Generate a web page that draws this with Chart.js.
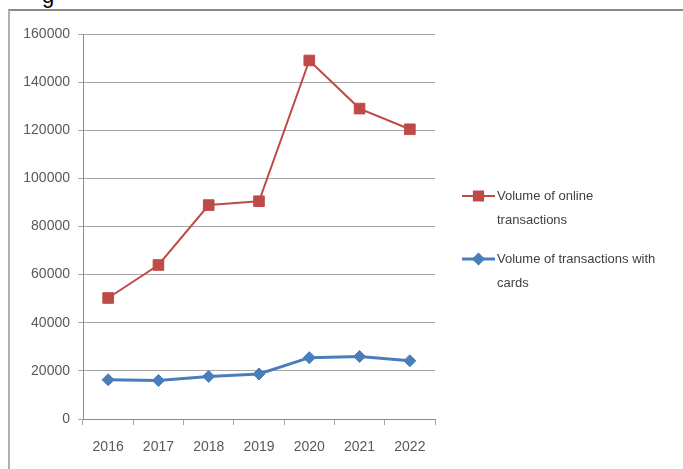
<!DOCTYPE html>
<html lang="en">
<head>
  <meta charset="UTF-8" />
  <title>Transaction volumes 2016-2022</title>
  <script src="https://cdn.jsdelivr.net/npm/chart.js"></script>
  <style>
    body {
      background-color: white;
      margin: 0;
      padding: 0;
      width: 683px;
      height: 469px;
      overflow: hidden;
      position: relative;
      font-family: "Liberation Sans", Arial, sans-serif;
    }

    .caption {
      position: absolute;
      left: 42px;
      top: -17px;
      font-size: 22px;
      color: black;
    }

    .frame {
      position: absolute;
      left: 8px;
      top: 9px;
      width: 690px;
      height: 470px;
      border-top: 2px solid #8a8a8a;
      border-left: 2px solid #b0b0b0;
      background-color: white;
    }

    canvas {
      display: block;
    }
  </style>
</head>
<body>

  <div class="caption">g</div>
  <div class="frame">
    <canvas id="txChart" width="673" height="456"></canvas>
  </div>

  <script>
    const years = ['2016', '2017', '2018', '2019', '2020', '2021', '2022'];
    const onlineVolume = [50300, 64000, 88900, 90500, 149000, 129000, 120400];
    const cardVolume = [16300, 16000, 17700, 18700, 25500, 26000, 24200];
    const onlineLabel = ['Volume of online', 'transactions'];
    const cardLabel = ['Volume of transactions with', 'cards'];

    const red = '#be4b48';
    const blue = '#4a7ebb';
    const gridGrey = '#a6a6a6';
    const textGrey = '#595959';

    // legend drawn by hand, labels wrap over two lines like the original
    const sideLegend = {
      id: 'sideLegend',
      afterDraw(chart) {
        const ctx = chart.ctx;
        const x0 = 452, x1 = 485;
        const items = [
          { y: 185, lines: onlineLabel, color: red, style: 'rect', r: 6.5 },
          { y: 248, lines: cardLabel, color: blue, style: 'rectRot', r: 4.5 }
        ];
        ctx.save();
        items.forEach(it => {
          ctx.strokeStyle = it.color;
          ctx.lineWidth = it.style === 'rect' ? 2 : 3;
          ctx.beginPath();
          ctx.moveTo(x0, it.y);
          ctx.lineTo(x1, it.y);
          ctx.stroke();
          Chart.helpers.drawPoint(ctx, {
            pointStyle: it.style,
            radius: it.r,
            borderWidth: 1
          }, (x0 + x1) / 2, it.y);
          ctx.fillStyle = it.color;
          ctx.fill();
          ctx.fillStyle = '#404040';
          ctx.font = '13px "Liberation Sans", Arial, sans-serif';
          ctx.textBaseline = 'middle';
          ctx.textAlign = 'left';
          it.lines.forEach((t, i) => ctx.fillText(t, x1 + 2, it.y + i * 24));
        });
        ctx.restore();
      }
    };

    const ctx = document.getElementById('txChart').getContext('2d');
    const chart = new Chart(ctx, {
      type: 'line',
      data: {
        labels: years,
        datasets: [{
          label: onlineLabel.join(' '),
          data: onlineVolume,
          borderColor: red,
          backgroundColor: red,
          borderWidth: 2,
          pointStyle: 'rect',
          pointRadius: 7.5,
          pointBorderWidth: 1,
          tension: 0
        }, {
          label: cardLabel.join(' '),
          data: cardVolume,
          borderColor: blue,
          backgroundColor: blue,
          borderWidth: 3,
          pointStyle: 'rectRot',
          pointRadius: 6,
          pointBorderWidth: 1,
          tension: 0
        }]
      },
      options: {
        responsive: false,
        animation: false,
        layout: {
          padding: { top: 23, right: 248, bottom: 0, left: 0 }
        },
        plugins: {
          legend: { display: false },
          tooltip: { enabled: false }
        },
        scales: {
          x: {
            offset: true,
            afterFit: s => { s.height = 48; },
            grid: {
              offset: true,
              drawOnChartArea: false,
              color: gridGrey,
              tickLength: 6
            },
            border: { color: '#8c8c8c' },
            ticks: {
              color: textGrey,
              padding: 14,
              font: { family: '"Liberation Sans", Arial, sans-serif', size: 14 }
            }
          },
          y: {
            min: 0,
            max: 160000,
            afterFit: s => { s.width = 73; },
            grid: {
              color: gridGrey,
              tickLength: 5
            },
            border: { color: '#8c8c8c' },
            ticks: {
              stepSize: 20000,
              color: textGrey,
              padding: 8,
              callback: v => String(v),
              font: { family: '"Liberation Sans", Arial, sans-serif', size: 14 }
            }
          }
        }
      },
      plugins: [sideLegend]
    });
  </script>
</body>
</html>
